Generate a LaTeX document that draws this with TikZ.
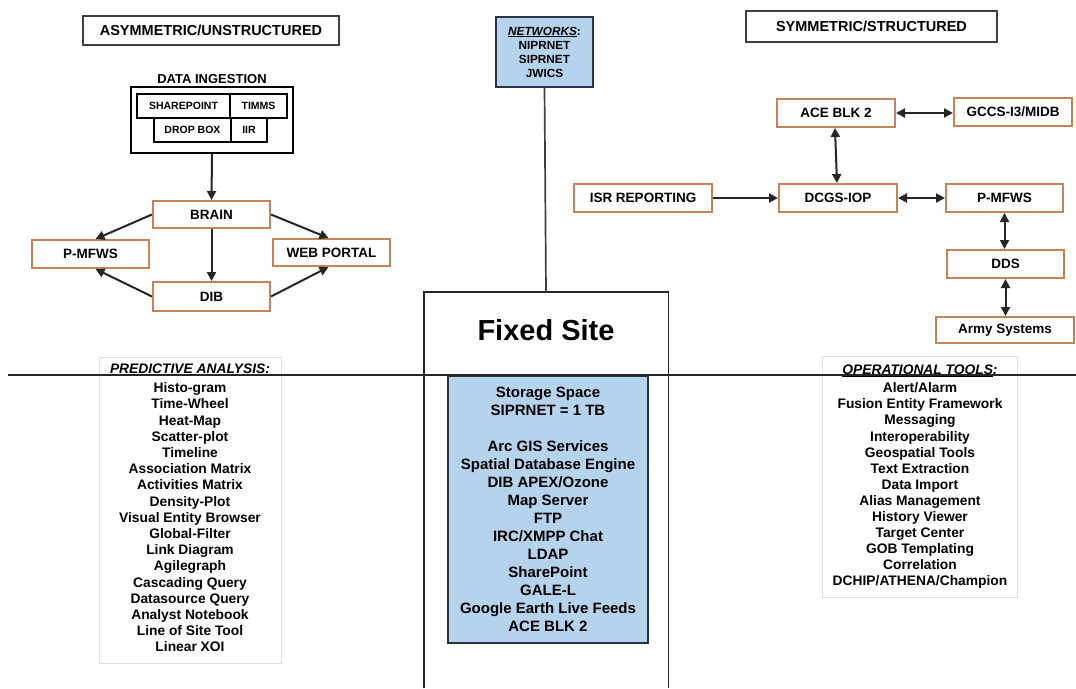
\documentclass[tikz,border=0pt]{standalone}
\usepackage{fontspec}
\setmainfont{Liberation Sans}
\usetikzlibrary{arrows.meta}
\definecolor{obrd}{HTML}{C4845A}
\definecolor{lblue}{HTML}{B5D3EC}
\definecolor{lgray}{HTML}{DDDDDD}
\definecolor{navy}{HTML}{2A3440}
\newcommand\fsz[2]{\fontsize{#1}{#2}\selectfont\bfseries}
\begin{document}
\begin{tikzpicture}[x=1pt,y=-1pt,
  obox/.style={draw=obrd,line width=2pt,fill=white,inner sep=0pt,font=\fsz{13.5}{16}},
  kbox/.style={draw=black!75,line width=1.8pt,inner sep=0pt,font=\fsz{14.5}{17}},
  sbox/.style={draw=black,line width=1.1pt,inner sep=0pt,font=\fsz{10.5}{12}},
  bbox/.style={draw=navy,line width=1.1pt,fill=lblue,inner sep=0pt,align=center},
  lbox/.style={draw=lgray,line width=0.6pt,inner sep=0pt},
  arr/.style={line width=2pt,draw=black!85,-{Triangle[length=9pt,width=9pt]}},
  darr/.style={line width=2pt,draw=black!85,{Triangle[length=9pt,width=9pt]}-{Triangle[length=9pt,width=9pt]}},
  ]
\useasboundingbox[fill=white] (0,0) rectangle (1076,688);

% ---------- left ----------
\node[kbox,minimum width=256pt,minimum height=29pt] (asym) at (211,30.5) {ASYMMETRIC/UNSTRUCTURED};
\node[font=\fsz{13}{15}] (dilbl) at (212,79) {DATA INGESTION};
\node[draw=black,line width=1.4pt,minimum width=162pt,minimum height=66pt,inner sep=0pt] (dibox) at (212,120) {};
\node[sbox,minimum width=93pt,minimum height=24pt] (shp) at (183.5,106) {SHAREPOINT};
\node[sbox,minimum width=57pt,minimum height=24pt] (timms) at (258.5,106) {TIMMS};
\node[sbox,minimum width=77pt,minimum height=24pt] (drop) at (192.5,130) {DROP BOX};
\node[sbox,minimum width=36pt,minimum height=24pt] (iir) at (249,130) {IIR};

\node[obox,minimum width=117pt,minimum height=27pt] (brain) at (211.5,214.5) {BRAIN};
\node[obox,minimum width=117pt,minimum height=28pt] (pmfwsL) at (90.5,254) {P-MFWS};
\node[obox,minimum width=117pt,minimum height=27pt] (web) at (331.5,252.5) {WEB PORTAL};
\node[obox,minimum width=117pt,minimum height=29pt] (dib) at (211.5,296.5) {DIB};

\draw[arr] (dibox.south) -- (brain.north);
\draw[arr] (brain.west) -- ([xshift=5pt]pmfwsL.north);
\draw[arr] (brain.east) -- ([xshift=-3pt]web.north);
\draw[arr] (brain.south) -- (dib.north);
\draw[arr] (dib.west) -- ([xshift=5pt]pmfwsL.south);
\draw[arr] (dib.east) -- ([xshift=-3pt]web.south);

% ---------- center ----------
\node[bbox,minimum width=97pt,minimum height=70pt,font=\fsz{11.8}{14}] (net) at (544.5,52)
  {\itshape\underline{NETWORKS}\normalfont\bfseries:\\NIPRNET\\SIPRNET\\JWICS};
\node[minimum width=244pt,minimum height=396pt,anchor=north,inner sep=0pt] (fixed) at (546,292) {};
\draw[line width=1.4pt,black!85] (fixed.south west) -- (fixed.north west) -- (fixed.north east) -- (fixed.south east);
\node[font=\fsz{29}{34}] (fixedlbl) at (546,330) {Fixed Site};
\draw[line width=1.7pt,black!75] (net.south) -- (fixed.north);

\node[bbox,minimum width=200pt,minimum height=267pt,font=\fsz{15}{18}] (store) at (548,509.5)
  {Storage Space\\SIPRNET = 1 TB\\[18pt]Arc GIS Services\\Spatial Database Engine\\DIB APEX/Ozone\\Map Server\\FTP\\IRC/XMPP Chat\\LDAP\\SharePoint\\GALE-L\\Google Earth Live Feeds\\ACE BLK 2};

% ---------- lists ----------
\node[lbox,minimum width=182pt,minimum height=306pt] (pabox) at (190,510) {};
\node[font=\fsz{13.8}{16.2}\itshape] (pahead) at (190,370) {\underline{PREDICTIVE ANALYSIS}:};
\node[font=\fsz{13.8}{16.2},align=center,anchor=north,inner sep=0pt] (palist) at (190,382.5)
  {Histo-gram\\Time-Wheel\\Heat-Map\\Scatter-plot\\Timeline\\Association Matrix\\Activities Matrix\\Density-Plot\\Visual Entity Browser\\Global-Filter\\Link Diagram\\Agilegraph\\Cascading Query\\Datasource Query\\Analyst Notebook\\Line of Site Tool\\Linear XOI};

\node[lbox,minimum width=195pt,minimum height=241pt] (otbox) at (919.5,476.5) {};
\node[font=\fsz{13.8}{16.1}\itshape] (othead) at (920,371) {\underline{OPERATIONAL TOOLS}:};
\node[font=\fsz{13.8}{16.1},align=center,anchor=north,inner sep=0pt] (otlist) at (920,382.5)
  {Alert/Alarm\\Fusion Entity Framework\\Messaging\\Interoperability\\Geospatial Tools\\Text Extraction\\Data Import\\Alias Management\\History Viewer\\Target Center\\GOB Templating\\Correlation\\DCHIP/ATHENA/Champion};

% ---------- right ----------
\node[kbox,minimum width=251pt,minimum height=31pt] (sym) at (871.5,26.5) {SYMMETRIC/STRUCTURED};
\node[obox,minimum width=118pt,minimum height=28pt] (ace) at (836,113) {ACE BLK 2};
\node[obox,minimum width=118pt,minimum height=28pt] (gccs) at (1013,112) {GCCS-I3/MIDB};
\node[obox,minimum width=138pt,minimum height=28pt] (isr) at (643,198) {ISR REPORTING};
\node[obox,minimum width=118pt,minimum height=28pt] (dcgs) at (838,198) {DCGS-IOP};
\node[obox,minimum width=117pt,minimum height=28pt] (pmfwsR) at (1004.5,198) {P-MFWS};
\node[obox,minimum width=117pt,minimum height=28pt] (dds) at (1005.5,264) {DDS};
\node[obox,minimum width=138pt,minimum height=26pt] (army) at (1005,330) {Army Systems};

\draw[darr] (ace.east) -- (ace.east -| gccs.west);
\draw[darr] ([xshift=-1pt]ace.south) -- ([xshift=-1pt]dcgs.north);
\draw[arr] (isr.east) -- (dcgs.west);
\draw[darr] (dcgs.east) -- (pmfwsR.west);
\draw[darr] (pmfwsR.south) -- (pmfwsR.south |- dds.north);
\draw[darr] (dds.south) -- (dds.south |- army.north);

% ---------- divider ----------
\coordinate (divL) at (8,375);
\coordinate (divR) at (1076,375);
\draw[line width=1.4pt,black!85] (divL) -- (divR);
\end{tikzpicture}
\end{document}
